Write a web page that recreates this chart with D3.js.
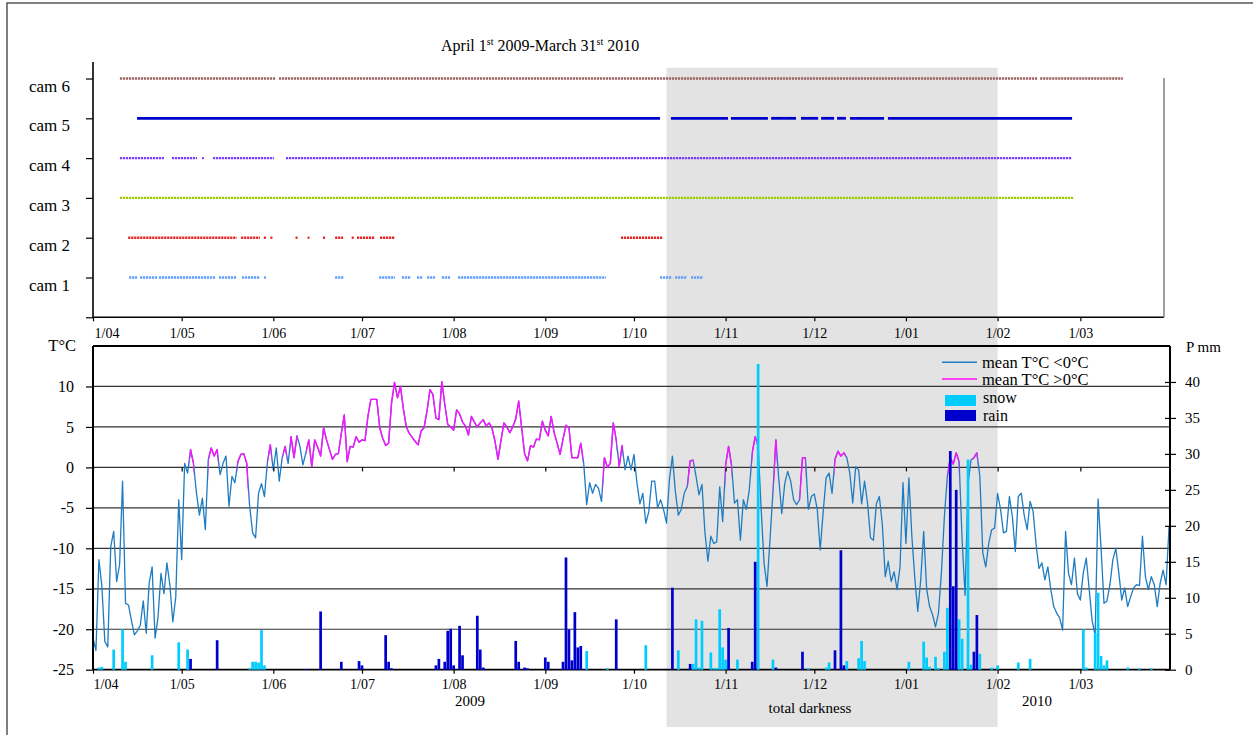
<!DOCTYPE html>
<html><head><meta charset="utf-8">
<script src="https://cdn.jsdelivr.net/npm/d3@7"></script>
<style>
body{margin:0;background:#fff}
svg{display:block}
text{font-family:"Liberation Serif","Times New Roman",serif;fill:#000}
</style>
</head><body>
<svg id="chart" width="1253" height="735"></svg>
<script>
// ---------------- DATA ----------------
const seasonStart = "2009-04-01";
const seasonEnd = "2010-04-01";
const monthTicks = ["2009-04-01","2009-05-01","2009-06-01","2009-07-01","2009-08-01","2009-09-01",
  "2009-10-01","2009-11-01","2009-12-01","2010-01-01","2010-02-01","2010-03-01"];
const monthLabels = ["1/04","1/05","1/06","1/07","1/08","1/09","1/10","1/11","1/12","1/01","1/02","1/03"];
const darknessPeriod = ["2009-10-12","2010-02-01"];
const cameraNames = ["cam 1","cam 2","cam 3","cam 4","cam 5","cam 6"];
// camera operating intervals, in days since 1 April 2009
const cam1Intervals = [[12.2,14.9],[15.9,21.7],[22.3,41.3],[42.6,48.7],[50.4,56.5],[57.8,58.5],[81.9,84.9],
  [96.8,102.2],[104.5,107.6],[109.6,111.6],[113.0,115.7],[118.0,120.8],[123.5,173.5],[191.8,195.9],[196.9,200.9],[202.3,206.4]];
const cam2Intervals = [[11.9,48.6],[50.1,56.5],[57.8,58.5],[60.0,60.7],[68.5,69.2],[72.6,73.2],[77.8,78.5],
  [81.9,84.6],[87.5,88.2],[89.3,95.4],[97.1,101.9],[178.6,192.6]];
const cam3Intervals = [[9.1,331.8]];
const cam4Intervals = [[9.1,24.0],[26.7,35.2],[36.9,37.5],[40.6,61.2],[65.3,330.9]];
const cam5Intervals = [[14.9,191.8],[195.5,214.8],[215.8,228.3],[229.4,237.8],[239.5,245.3],[246.3,250.7],
  [251.7,254.7],[256.1,267.6],[268.9,331.2]];
const cam6Intervals = [[9.1,61.9],[62.9,319.7],[320.4,348.4]];

// daily mean temperature (°C), 1 April 2009 .. 31 March 2010
const meanTemperature = [
-21.1,-22.6,-11.4,-14.7,-21.5,-22.2,-9.8,-7.9,-14.1,-12.0,
-1.7,-16.8,-17.0,-18.9,-20.7,-20.2,-19.5,-16.5,-20.5,-14.3,
-12.3,-21.1,-18.5,-13.1,-15.6,-11.8,-14.5,-19.1,-16.0,-4.0,
-11.4,0.5,-0.7,2.2,0.5,-3.2,-5.9,-3.8,-7.7,1.0,
2.4,1.4,2.2,-0.9,0.5,1.4,-4.8,-1.1,-1.9,0.7,
1.6,1.7,0.5,-4.8,-8.1,-8.7,-3.2,-2.0,-3.6,0.7,
2.8,-0.3,2.4,-1.7,1.2,2.6,0.5,3.8,1.2,3.9,
2.6,0.3,1.8,3.4,0.1,3.4,2.5,1.4,4.9,3.4,
2.2,1.0,1.6,1.7,4.2,6.5,0.7,2.6,2.5,3.8,
3.1,3.4,3.3,6.3,8.4,8.4,8.4,4.9,3.6,2.7,
3.0,8.0,10.5,8.6,10.0,7.2,5.0,4.2,3.7,3.2,
2.8,4.5,4.9,7.0,9.6,9.0,6.1,5.9,10.6,7.8,
5.3,5.0,4.6,7.1,6.6,5.6,5.1,4.0,6.3,5.6,
5.0,5.5,5.9,5.1,5.5,4.8,3.2,1.0,3.3,5.5,
5.0,4.3,5.0,6.0,8.2,4.9,1.7,0.8,2.7,2.5,
3.5,3.4,5.7,4.6,3.9,6.3,4.3,3.0,1.6,3.5,
5.2,4.9,1.2,1.2,1.2,3.0,0.5,-4.6,-1.9,-3.2,
-2.1,-2.6,-4.2,1.2,0.0,0.5,5.5,3.4,0.1,2.7,
-0.3,1.4,-0.3,1.6,-1.9,-4.5,-3.2,-6.9,-5.5,-1.7,
-1.7,-5.0,-4.0,-5.2,-6.9,-1.5,1.4,-3.0,-5.9,-5.2,
-3.2,-2.4,0.8,0.9,-1.1,-3.4,-2.1,-8.0,-11.6,-8.5,
-9.4,-9.2,-2.4,-6.7,0.3,2.6,0.3,-4.4,-4.0,-9.0,
-4.0,-5.2,-2.8,1.8,3.8,2.6,-5.0,-11.8,-14.7,-9.0,
-3.0,3.4,-1.5,-5.7,-2.0,-0.5,-1.7,-4.0,-4.6,-4.0,
1.2,1.2,-5.2,-3.6,-3.3,-5.2,-10.2,-5.5,-1.3,-0.7,
-3.2,1.0,2.0,1.4,1.8,1.2,-0.7,-4.4,0.1,-0.3,
-4.5,-1.7,-4.4,-8.7,-9.0,-4.5,-3.6,-7.0,-13.5,-11.6,
-14.1,-12.9,-15.1,-12.3,-1.9,-9.4,-1.3,-8.5,-13.7,-17.8,
-13.9,-7.9,-15.0,-17.2,-18.2,-19.7,-18.0,-13.0,-6.1,-1.1,
1.2,0.4,1.8,0.7,-9.0,-15.8,-2.0,0.9,1.2,1.8,
-1.1,-10.6,-12.3,-9.4,-7.7,-7.5,-3.2,-5.2,-8.1,-7.9,
-3.6,-6.1,-10.4,-3.6,-3.2,-5.9,-7.7,-4.2,-5.4,-9.4,
-12.5,-11.8,-13.9,-12.3,-15.1,-17.2,-18.0,-18.6,-20.1,-7.9,
-13.1,-14.5,-11.2,-15.6,-16.4,-13.0,-11.2,-15.1,-19.0,-20.7,
-3.9,-10.0,-16.8,-16.5,-14.5,-11.4,-10.0,-13.0,-16.4,-14.9,
-17.2,-16.0,-14.9,-14.5,-14.6,-8.5,-13.5,-15.1,-13.5,-14.5,
-17.2,-14.3,-12.7,-14.5,-7.3
];
// stretches (days since 1 April 2009) drawn in the ">0°C" colour
const warmSpans = [[32.6,34.2],[39.0,42.4],[48.8,52.5],[59.1,60.4],[64.2,65.5],[66.6,69.2],[72.1,165.8],
  [172.4,177.2],[177.7,179.2],[201.1,203.1],[213.8,216.1],[222.8,225.1],[230.2,231.4],[239.0,241.1],
  [250.7,254.6],[289.1,293.0],[297.5,299.2]];

// precipitation: [day since 1 April 2009, mm]
const snow = [[2,0.3],[3,0.4],[7,2.8],[10,5.6],[11,1.1],[20,2.0],[29,3.8],[32,2.8],[53,0.2],[54,1.1],[55,1.1],
  [56,1.0],[57,5.5],[58,0.6],[167,2.6],[174,0.2],[187,3.4],[198,2.7],[203,0.8],[204,7.0],[205,0.3],[206,6.8],
  [209,2.4],[210,0.2],[211,0.2],[212,8.4],[213,3.1],[214,1.4],[218,1.4],[225,42.5],[230,1.4],[242,0.2],
  [248,0.3],[249,1.0],[255,1.2],[259,1.6],[260,4.0],[261,1.2],[276,1.1],[281,3.9],[282,1.7],[283,0.4],
  [285,1.8],[286,0.2],[288,2.5],[289,8.6],[293,7.0],[294,4.3],[296,29.2],[297,0.7],[300,2.2],[304,0.3],
  [306,0.6],[313,1.0],[317,1.5],[335,5.6],[336,0.3],[339,5.1],[340,10.7],[341,1.9],[342,0.6],[343,1.3],
  [350,0.3],[354,0.2],[358,0.2]];
const rain = [[33,1.5],[42,4.1],[72,0.1],[77,8.1],[84,1.1],[90,1.2],[91,0.6],[99,4.8],[100,1.1],[101,0.2],
  [116,0.6],[117,1.5],[119,1.1],[120,5.4],[121,5.7],[122,0.6],[124,6.1],[125,2.0],[130,7.5],[131,2.8],
  [132,0.3],[143,4.0],[144,1.1],[146,0.3],[147,0.2],[153,1.7],[154,1.1],[159,1.1],[160,15.6],[161,5.6],
  [162,1.3],[163,8.0],[164,3.1],[165,3.3],[177,7.0],[196,11.4],[202,0.8],[215,5.8],[223,1.1],[224,15.0],
  [231,0.3],[240,2.5],[251,2.7],[253,16.6],[254,0.6],[290,30.4],[291,11.6],[292,25.0],[298,2.5],[299,7.6]];

const tempTicks = [-25,-20,-15,-10,-5,0,5,10];
const precipTicks = [0,5,10,15,20,25,30,35,40];
const camLevels = [0,1,2,3,4,5,6];
const legendLabels = ["mean T°C <0°C","mean T°C >0°C","snow","rain"];

// ---------------- STYLE ----------------
const camColors = ["#5f9dff","#e82424","#9ccc00","#7a3cff","#0000cc","#a06464"];
const colBlue = "#1d7cc2", colMag = "#ff10ff", colSnow = "#00ccff", colRain = "#0000cc";
const FONT = '"Liberation Serif","Times New Roman",serif';

// ---------------- LAYOUT ----------------
const svg = d3.select("#chart");
const parse = d3.utcParse("%Y-%m-%d");
const day0 = parse(seasonStart);
const dayDate = d => new Date(day0.getTime() + d * 864e5);
const L = 93, Rtop = 1164, Rbot = 1170;
const topAxisY = 317.3, topAxisTop = 62;
const botTop = 346, botBottom = 669.7;

const x = d3.scaleUtc().domain([parse(seasonStart), parse(seasonEnd)]).range([L, 1172]);
const yCam = d3.scaleLinear().domain([0, 6.4]).range([topAxisY, 62.6]);
const yT = d3.scaleLinear().domain([-25, 15]).range([botBottom, botTop]);
const yP = d3.scaleLinear().domain([0, 45]).range([botBottom, botTop]);

// outer frame
svg.append("path").attr("d","M7,735 V3 H1253").attr("fill","none").attr("stroke","#555").attr("stroke-width",1.5);

// total darkness band
svg.append("rect")
  .attr("x", x(parse(darknessPeriod[0])))
  .attr("width", x(parse(darknessPeriod[1])) - x(parse(darknessPeriod[0])))
  .attr("y", 67.7).attr("height", 727 - 67.7).attr("fill", "#e3e3e3");

// title
const title = svg.append("text").attr("x", 441).attr("y", 51).attr("font-size", 16);
title.append("tspan").text("April 1");
title.append("tspan").attr("font-size", 10).attr("dy", -6).text("st");
title.append("tspan").attr("dy", 6).text(" 2009-March 31");
title.append("tspan").attr("font-size", 10).attr("dy", -6).text("st");
title.append("tspan").attr("dy", 6).text(" 2010");

// ---------- top panel ----------
const camSets = [cam1Intervals, cam2Intervals, cam3Intervals, cam4Intervals, cam5Intervals, cam6Intervals];
camSets.forEach((ivs, i) => {
  const level = i + 1;
  svg.append("g").selectAll("line").data(ivs).join("line")
    .attr("x1", d => x(dayDate(d[0]))).attr("x2", d => x(dayDate(d[1])))
    .attr("y1", yCam(level)).attr("y2", yCam(level))
    .attr("stroke", camColors[i])
    .attr("stroke-width", level === 5 ? 2.8 : 2.4)
    .attr("stroke-dasharray", level === 5 ? null : "2.2,0.8");
});

// top panel frame
svg.append("line").attr("x1", L).attr("x2", L).attr("y1", topAxisTop).attr("y2", topAxisY).attr("stroke","#000").attr("stroke-width",1.6);
svg.append("line").attr("x1", L).attr("x2", Rtop).attr("y1", topAxisY).attr("y2", topAxisY).attr("stroke","#000").attr("stroke-width",1.6);
svg.append("line").attr("x1", Rtop).attr("x2", Rtop).attr("y1", 78).attr("y2", topAxisY).attr("stroke","#888").attr("stroke-width",1.6);

function styleAxis(g, size) {
  g.attr("font-family", FONT).attr("font-size", size);
  g.select(".domain").remove();
  g.selectAll("line").attr("stroke", "#000").attr("stroke-width", 1.2);
  g.selectAll("text").attr("fill", "#000");
}

const camAxis = svg.append("g").attr("transform", `translate(${L},0)`)
  .call(d3.axisLeft(yCam).tickValues(camLevels).tickSize(7).tickPadding(16)
    .tickFormat(k => k ? cameraNames[k - 1] : ""));
styleAxis(camAxis, 17);
camAxis.selectAll("text").attr("dy", 12.5);

const monthDates = monthTicks.map(parse);
const topMonths = svg.append("g").attr("transform", `translate(0,${topAxisY})`)
  .call(d3.axisBottom(x).tickValues(monthDates).tickSize(4).tickPadding(7)
    .tickFormat((d, i) => monthLabels[i]));
styleAxis(topMonths, 14);
topMonths.selectAll("text").filter((d, i) => i === 0).attr("text-anchor", "start").attr("x", 1);

// ---------- bottom panel ----------
// gridlines
svg.append("g").selectAll("line").data(tempTicks.concat([15])).join("line")
  .attr("x1", L).attr("x2", Rbot)
  .attr("y1", d => yT(d)).attr("y2", d => yT(d))
  .attr("stroke", d => (d === 15 || d === -25) ? "#000" : "#333")
  .attr("stroke-width", d => (d === 15 || d === -25) ? 1.8 : 1.2);

// temperature line
const clip = svg.append("defs").append("clipPath").attr("id", "warm");
clip.selectAll("rect").data(warmSpans).join("rect")
  .attr("x", d => x(dayDate(d[0]))).attr("width", d => x(dayDate(d[1])) - x(dayDate(d[0])))
  .attr("y", botTop - 5).attr("height", botBottom - botTop + 10);

const tLine = d3.line().x((v, i) => x(dayDate(i))).y(v => yT(v));
svg.append("path").datum(meanTemperature).attr("d", tLine)
  .attr("fill", "none").attr("stroke", colBlue).attr("stroke-width", 1.3).attr("stroke-linejoin","round");
svg.append("path").datum(meanTemperature).attr("d", tLine).attr("clip-path", "url(#warm)")
  .attr("fill", "none").attr("stroke", colMag).attr("stroke-width", 1.4).attr("stroke-linejoin","round");

// precipitation bars
const barW = 2.7;
svg.append("g").selectAll("rect").data(snow).join("rect")
  .attr("x", d => x(dayDate(d[0])) - barW / 2).attr("width", barW)
  .attr("y", d => yP(d[1])).attr("height", d => yP(0) - yP(d[1]))
  .attr("fill", colSnow);
svg.append("g").selectAll("rect").data(rain).join("rect")
  .attr("x", d => x(dayDate(d[0])) - barW / 2).attr("width", barW)
  .attr("y", d => yP(d[1])).attr("height", d => yP(0) - yP(d[1]))
  .attr("fill", colRain);

// axis lines
svg.append("line").attr("x1", L).attr("x2", L).attr("y1", botTop).attr("y2", botBottom).attr("stroke","#000").attr("stroke-width",2);
svg.append("line").attr("x1", Rbot).attr("x2", Rbot).attr("y1", botTop).attr("y2", botBottom).attr("stroke","#000").attr("stroke-width",2);

const tAxis = svg.append("g").attr("transform", `translate(${L},0)`)
  .call(d3.axisLeft(yT).tickValues(tempTicks).tickSize(7).tickPadding(12).tickFormat(d => String(d)));
styleAxis(tAxis, 16);

const pAxis = svg.append("g").attr("transform", `translate(${Rbot},0)`)
  .call(d3.axisRight(yP).tickValues(precipTicks).tickSize(6).tickPadding(9).tickFormat(d => String(d)));
styleAxis(pAxis, 15);
pAxis.selectAll("line").attr("x1", -5);

const botMonths = svg.append("g").attr("transform", `translate(0,${botBottom})`)
  .call(d3.axisBottom(x).tickValues(monthDates).tickSize(4).tickPadding(5.4)
    .tickFormat((d, i) => monthLabels[i]));
styleAxis(botMonths, 14);
botMonths.selectAll("text").filter((d, i) => i === 0).attr("text-anchor", "start").attr("x", 0);

const zeroTicks = svg.append("g").attr("transform", `translate(0,${yT(0)})`)
  .call(d3.axisBottom(x).tickValues(monthDates).tickSize(4).tickFormat(""));
styleAxis(zeroTicks, 14);

// axis titles & annotations
svg.append("text").attr("x", 76).attr("y", 351).attr("text-anchor", "end").attr("font-size", 16.5).text("T°C");
svg.append("text").attr("x", 1186).attr("y", 352).attr("font-size", 15).text("P mm");
svg.append("text").attr("x", 470).attr("y", 705.5).attr("text-anchor", "middle").attr("font-size", 15).text("2009");
svg.append("text").attr("x", 1037).attr("y", 705.5).attr("text-anchor", "middle").attr("font-size", 15).text("2010");
svg.append("text").attr("x", 810).attr("y", 713).attr("text-anchor", "middle").attr("font-size", 15).text("total darkness");

// legend
const lg = svg.append("g").attr("font-size", 16.5);
lg.append("line").attr("x1", 942).attr("x2", 977).attr("y1", 362.3).attr("y2", 362.3).attr("stroke", colBlue).attr("stroke-width", 1.6);
lg.append("line").attr("x1", 942).attr("x2", 977).attr("y1", 379).attr("y2", 379).attr("stroke", colMag).attr("stroke-width", 1.6);
lg.append("rect").attr("x", 945).attr("y", 395).attr("width", 31).attr("height", 11).attr("fill", colSnow);
lg.append("rect").attr("x", 945).attr("y", 410).attr("width", 31).attr("height", 11).attr("fill", colRain);
lg.append("text").attr("x", 982).attr("y", 368).text(legendLabels[0]);
lg.append("text").attr("x", 982).attr("y", 384.5).text(legendLabels[1]);
lg.append("text").attr("x", 983).attr("y", 402.5).attr("font-size", 16).text(legendLabels[2]);
lg.append("text").attr("x", 983).attr("y", 420.5).attr("font-size", 16).text(legendLabels[3]);
</script>
</body></html>
